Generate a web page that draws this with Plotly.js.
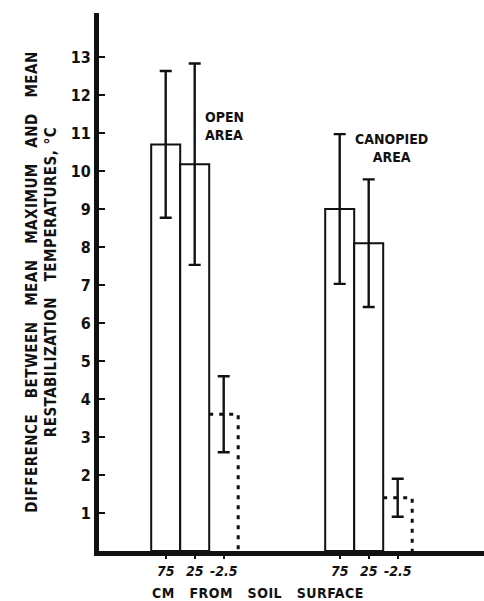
<!DOCTYPE html>
<html>
<head>
<meta charset="utf-8">
<script src="https://cdn.plot.ly/plotly-3.0.1.min.js"></script>
<style>
html,body{margin:0;padding:0;background:#fff;}
#chart{width:484px;height:601px;}
#chart text, #chart tspan{font-stretch:condensed !important;}
</style>
</head>
<body>
<div id="chart"></div>
<script>
// ---- data ----
const areas = ["OPEN AREA", "CANOPIED AREA"];
const depthLabels = ["75", "25", "-2.5"];          // cm from soil surface (as printed)
const openMeans = [10.7, 10.18, 3.6];
const openErrors = [1.93, 2.65, 1.0];
const canopiedMeans = [9.0, 8.1, 1.4];
const canopiedErrors = [1.97, 1.68, 0.5];
const yTicks = [1, 2, 3, 4, 5, 6, 7, 8, 9, 10, 11, 12, 13];

// ---- layout helpers ----
const FONT = '"DejaVu Sans Condensed", "DejaVu Sans", sans-serif';
const groupCenters = [3.3, 9.3];
const offsets = [-1, 0, 1];
const nb = n => "\u00A0".repeat(n);
const spaced = (words, n) => words.join(nb(n));

const groups = [
  {name: areas[0], means: openMeans, errs: openErrors, c: groupCenters[0]},
  {name: areas[1], means: canopiedMeans, errs: canopiedErrors, c: groupCenters[1]}
];

const traces = [];
const tickvals = [], ticktext = [];
groups.forEach(g => {
  const xs = offsets.map(o => g.c + o);
  xs.forEach((x, i) => { tickvals.push(x); ticktext.push(depthLabels[i]); });
  traces.push({
    type: "bar", name: g.name, x: xs, y: g.means, width: 1,
    marker: {
      color: g.means.map((_, i) => i === 2 ? "rgba(0,0,0,0)" : "#fff"),
      line: {color: "#111", width: g.means.map((_, i) => i === 2 ? 0 : 2)}
    },
    error_y: {type: "data", array: g.errs, visible: true, color: "#111", thickness: 2.4, width: 6},
    hoverinfo: "x+y", showlegend: false
  });
  // dashed outline of the below-surface (-2.5 cm) bar
  const x3 = xs[2], y3 = g.means[2];
  traces.push({
    type: "scatter", mode: "lines",
    x: [x3 - 0.5, x3 + 0.5, x3 + 0.5], y: [y3, y3, 0],
    line: {color: "#111", width: 3, dash: "4px,6px"},
    hoverinfo: "skip", showlegend: false
  });
});

const yTitle = '<span style="letter-spacing:0.5px">' +
  spaced(["DIFFERENCE", "BETWEEN", "MEAN", "MAXIMUM", "AND", "MEAN"], 3) +
  '<br>' + spaced(["RESTABILIZATION", "TEMPERATURES,"], 3) + nb(1) + '°C</span>';

const layout = {
  width: 484, height: 601,
  margin: {l: 99, r: 0, t: 13, b: 50},
  paper_bgcolor: "#fff", plot_bgcolor: "#fff",
  font: {family: FONT, color: "#111", weight: "bold"},
  showlegend: false,
  xaxis: {
    range: [0, 385 / 29], showgrid: false, zeroline: false,
    showline: true, linecolor: "#111", linewidth: 5,
    tickmode: "array", tickvals: tickvals, ticktext: ticktext,
    ticks: "outside", ticklen: 3, tickwidth: 2, tickcolor: "#111",
    tickfont: {family: FONT, size: 14, color: "#111", weight: "bold", style: "italic"}
  },
  yaxis: {
    range: [0, 538 / 38], showgrid: false, zeroline: false,
    showline: true, linecolor: "#111", linewidth: 5,
    tickmode: "array", tickvals: yTicks,
    ticks: "inside", ticklen: 6, tickwidth: 2, tickcolor: "#111",
    tickfont: {family: FONT, size: 16, color: "#111", weight: "bold"},
    title: {text: yTitle, font: {family: FONT, size: 15, color: "#111", weight: "bold"}, standoff: 12}
  },
  annotations: [
    {xref: "x", yref: "y", x: 3.58, y: 11.18, xanchor: "left", yanchor: "middle", align: "left",
     text: "OPEN<br>AREA", showarrow: false,
     font: {family: FONT, size: 14, color: "#111", weight: "bold"}},
    {xref: "x", yref: "y", x: 10.07, y: 10.6, xanchor: "center", yanchor: "middle", align: "center",
     text: "CANOPIED<br>AREA", showarrow: false,
     font: {family: FONT, size: 14, color: "#111", weight: "bold"}},
    {xref: "paper", yref: "paper", x: (258 - 99) / 385, y: -0.078, xanchor: "center", yanchor: "middle",
     text: '<span style="letter-spacing:0.5px">' + spaced(["CM", "FROM", "SOIL", "SURFACE"], 3) + '</span>',
     showarrow: false, font: {family: FONT, size: 14, color: "#111", weight: "bold"}}
  ]
};

Plotly.newPlot("chart", traces, layout, {staticPlot: true, displayModeBar: false});
</script>
</body>
</html>
